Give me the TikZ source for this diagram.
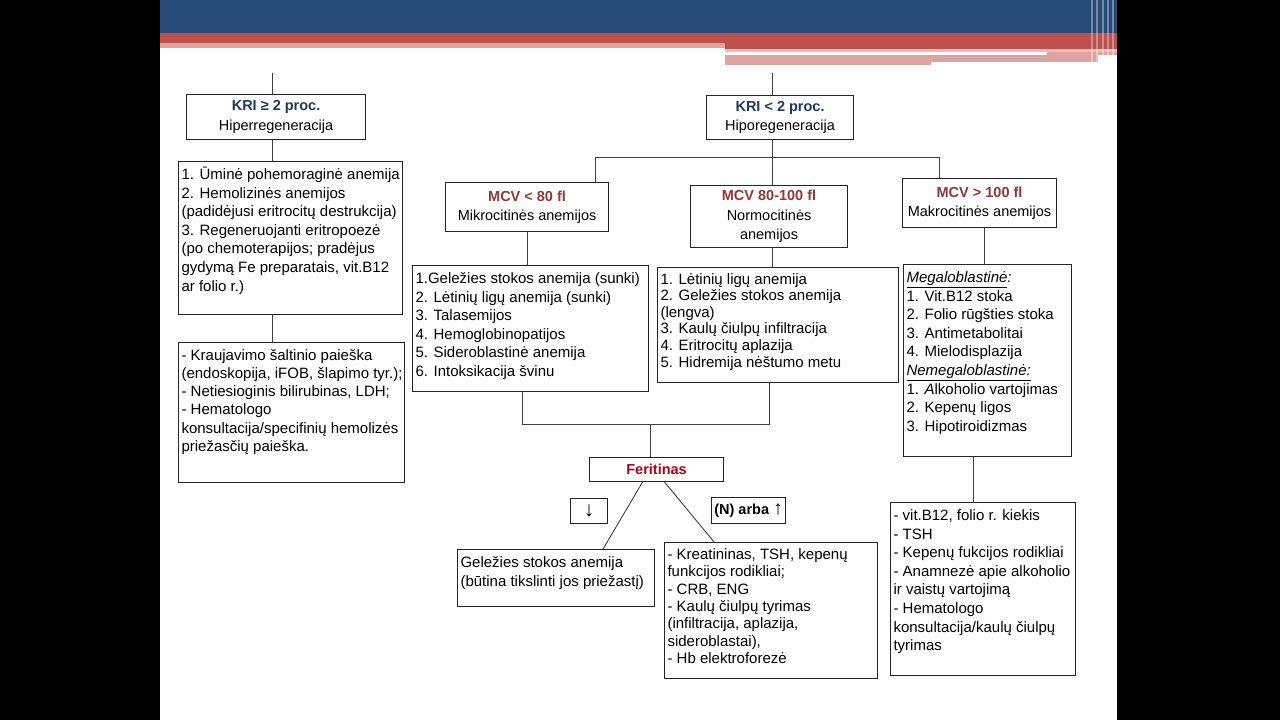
\documentclass[tikz,border=0pt]{standalone}
\usepackage{fontspec}
\setmainfont{Liberation Sans}
\definecolor{slideblue}{HTML}{284A79}
\definecolor{slidered}{HTML}{C0504D}
\definecolor{slidepink}{HTML}{DDA3A1}
\definecolor{kriblue}{HTML}{1F3A60}
\definecolor{mcvred}{HTML}{953735}
\definecolor{ferred}{HTML}{B0001E}
\tikzset{
  hdrbox/.style={draw=black!85, line width=1.1pt, anchor=north west, align=center, inner sep=0pt, font=\fontsize{14.5}{19.5}\selectfont},
  listbox/.style={draw=black!85, line width=1.1pt, anchor=north west, inner xsep=3pt, inner ysep=5pt, font=\fontsize{15}{18.6}\selectfont},
  conn/.style={draw=black!75, line width=0.9pt},
}
\newcommand{\boxlines}[3]{\parbox[t][#2][t]{#1}{\begin{tabular}[t]{@{}l@{}}#3\end{tabular}}}

\begin{document}
\begin{tikzpicture}[x=1pt,y=-1pt]
        \useasboundingbox (0,0) rectangle (1280,720);
        % slide frame and title bar
        \fill[black] (0,0) rectangle (160,720);
        \fill[black] (1117,0) rectangle (1280,720);
        \fill[slideblue] (160,0) rectangle (1117,33);
        \fill[slidered] (160,33) rectangle (1117,43);
        \fill[slidered] (725,43) rectangle (1117,49);
        \fill[slidepink] (160,43) rectangle (725,48);
        \fill[slidepink!70] (725,49) rectangle (1117,52);
        \fill[slidepink] (1047,52) rectangle (1117,55);
        \fill[slidepink] (725,55) rectangle (931,65);
        \fill[slidepink] (931,55) rectangle (1098,62);
        \foreach \sx in {1091,1096,1102,1107,1112}
            \fill[white,opacity=0.35] (\sx,0) rectangle +(2,65);

        % regeneration level
        \node[hdrbox, minimum width=179pt, minimum height=45pt] (kriH) at (186,94) {\textcolor{kriblue}{\textbf{KRI ≥ 2 proc.}}\\Hiperregeneracija};
        \node[hdrbox, minimum width=147pt, minimum height=44pt] (kriL) at (706,95) {\textcolor{kriblue}{\textbf{KRI < 2 proc.}}\\Hiporegeneracija};

        \node[listbox] (hypList) at (178,161) {\boxlines{218pt}{143pt}{1. Ūminė pohemoraginė anemija\\2. Hemolizinės anemijos\\(padidėjusi eritrocitų destrukcija)\\3. Regeneruojanti eritropoezė\\(po chemoterapijos; pradėjus\\gydymą Fe preparatais, vit.B12\\ar folio r.)}};
        \node[listbox, font=\fontsize{15}{18.2}\selectfont] (hypTest) at (178,342) {\boxlines{220pt}{130pt}{- Kraujavimo šaltinio paieška\\(endoskopija, iFOB, šlapimo tyr.);\\- Netiesioginis bilirubinas, LDH;\\- Hematologo\\konsultacija/specifinių hemolizės\\priežasčių paieška.}};

        % MCV groups
        \node[hdrbox, minimum width=163pt, minimum height=49pt] (micro) at (445,182) {\textcolor{mcvred}{\textbf{MCV < 80 fl}}\\Mikrocitinės anemijos};
        \node[hdrbox, minimum width=157pt, minimum height=62pt] (normo) at (690,185) {\textcolor{mcvred}{\textbf{MCV 80-100 fl}}\\Normocitinės\\anemijos};
        \node[hdrbox, minimum width=154pt, minimum height=49pt] (macro) at (902,178) {\textcolor{mcvred}{\textbf{MCV > 100 fl}}\\Makrocitinės anemijos};

        \node[listbox] (microList) at (412,265) {\boxlines{230pt}{116pt}{1.Geležies stokos anemija (sunki)\\2. Lėtinių ligų anemija (sunki)\\3. Talasemijos\\4. Hemoglobinopatijos\\5. Sideroblastinė anemija\\6. Intoksikacija švinu}};
        \node[listbox, font=\fontsize{15}{16.6}\selectfont] (normoList) at (657,267) {\boxlines{235pt}{105pt}{1. Lėtinių ligų anemija\\2. Geležies stokos anemija\\(lengva)\\3. Kaulų čiulpų infiltracija\\4. Eritrocitų aplazija\\5. Hidremija nėštumo metu}};
        \node[listbox] (macroList) at (903,264) {\boxlines{162pt}{182pt}{\underline{\textit{Megaloblastinė}}\textit{:}\\1. Vit.B12 stoka\\2. Folio rūgšties stoka\\3. Antimetabolitai\\4. Mielodisplazija\\\underline{\textit{Nemegaloblastinė:}}\\1. \textit{A}lkoholio vartojimas\\2. Kepenų ligos\\3. Hipotiroidizmas}};

        % ferritin
        \node[hdrbox, minimum width=134pt, minimum height=24pt] (ferit) at (589,457) {\textcolor{ferred}{\textbf{Feritinas}}};
        \node[hdrbox, minimum width=37pt, minimum height=25pt] (lowFer) at (570,498) {\raisebox{-3pt}{\fontsize{21}{21}\selectfont ↓}};
        \node[hdrbox, minimum width=74pt, minimum height=26pt] (highFer) at (711,497) {\textbf{(N) arba} {\fontsize{19}{19}\selectfont ↑}};
        \node[listbox] (ironDef) at (457,549) {\boxlines{191pt}{47pt}{Geležies stokos anemija\\(būtina tikslinti jos priežastį)}};
        \node[listbox, font=\fontsize{15}{17.3}\selectfont] (normTest) at (664,542) {\boxlines{207pt}{126pt}{- Kreatininas, TSH, kepenų\\funkcijos rodikliai;\\- CRB, ENG\\- Kaulų čiulpų tyrimas\\(infiltracija, aplazija,\\sideroblastai),\\- Hb elektroforezė}};
        \node[listbox] (macroTest) at (890,502) {\boxlines{179pt}{163pt}{- vit.B12, folio r. kiekis\\- TSH\\- Kepenų fukcijos rodikliai\\- Anamnezė apie alkoholio\\ir vaistų vartojimą\\- Hematologo\\konsultacija/kaulų čiulpų\\tyrimas}};

        % connectors
        \coordinate (topH) at (272,73);
        \coordinate (topL) at (772,73);
        \coordinate (splitL) at (772,157);
        \coordinate (busW) at (595,157);
        \coordinate (busE) at (939,157);
        \coordinate (joinW) at (522,424);
        \coordinate (joinE) at (769,424);
        \coordinate (joinM) at (650,424);
        \coordinate (macroStem) at ([xshift=5pt]macro.south);
        \coordinate (macroDrop) at ([xshift=-14pt]macroList.south);
        \draw[conn] (topH) -- (topH |- kriH.north);
        \draw[conn] (topH |- kriH.south) -- (topH |- hypList.north);
        \draw[conn] (topH |- hypList.south) -- (topH |- hypTest.north);
        \draw[conn] (topL) -- (topL |- kriL.north);
        \draw[conn] (topL |- kriL.south) -- (splitL);
        \draw[conn] (busW |- micro.north) -- (busW) -- (busE) -- (busE |- macro.north);
        \draw[conn] (splitL) -- (splitL |- normo.north);
        \draw[conn] (micro.south) -- (micro.south |- microList.north);
        \draw[conn] (splitL |- normo.south) -- (splitL |- normoList.north);
        \draw[conn] (macroStem) -- (macroStem |- macroList.north);
        \draw[conn] (joinW |- microList.south) -- (joinW) -- (joinE) -- (joinE |- normoList.south);
        \draw[conn] (joinM) -- (joinM |- ferit.north);
        \draw[conn] ([xshift=-14pt]ferit.south) -- ([xshift=47pt]ironDef.north);
        \draw[conn] ([xshift=8pt]ferit.south) -- ([xshift=-57pt]normTest.north);
        \draw[conn] (macroDrop) -- (macroDrop |- macroTest.north);
\end{tikzpicture}
\end{document}
